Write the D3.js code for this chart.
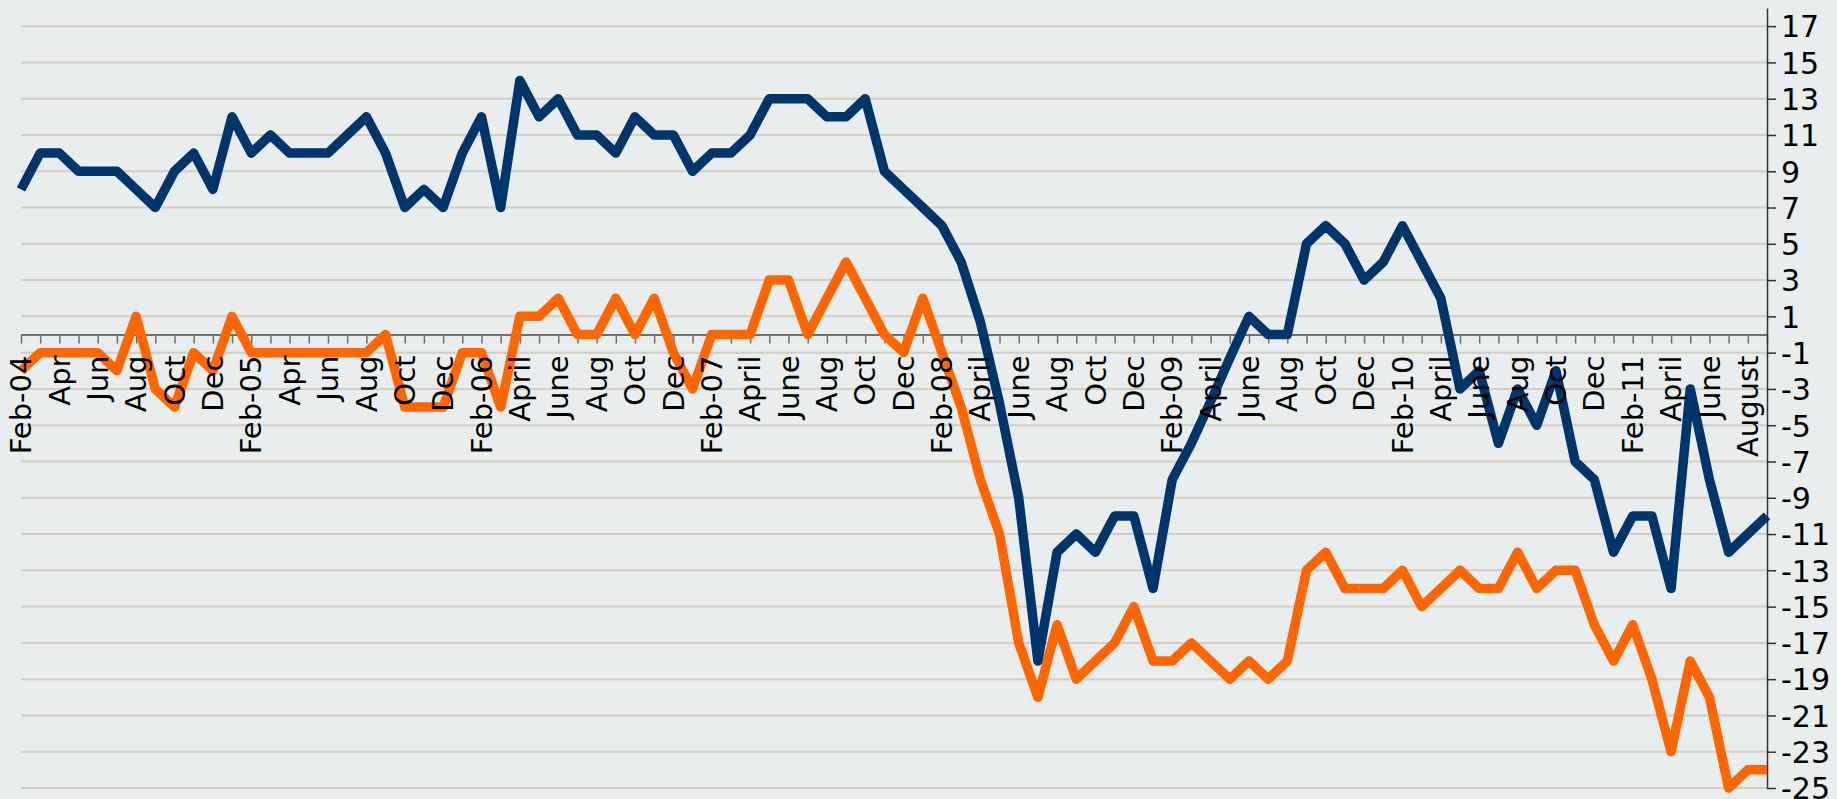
<!DOCTYPE html>
<html lang='en'>
  <head>
    <meta charset='utf-8'>
    <style type='text/css'>
      body {margin: 0; background-color: #e9eded;}
      #chart {width: 1837px; height: 799px; background-color: #e9eded;}
      .xlab text {font-family: "DejaVu Sans", Verdana, sans-serif; font-size: 29px; fill: #000;}
      .ylab text {font-family: "DejaVu Sans", Verdana, sans-serif; font-size: 30px; fill: #000;}
    </style>
  </head>
  <body>
    <div id='chart'>
      <svg width='1837' height='799'></svg>
    </div>
    <script src='https://d3js.org/d3.v7.min.js'></script>
    <script type='text/javascript'>
        // months, Feb 2004 to Sep 2011
        var months = [
          "2004-02","2004-03","2004-04","2004-05","2004-06","2004-07","2004-08","2004-09","2004-10","2004-11","2004-12",
          "2005-01","2005-02","2005-03","2005-04","2005-05","2005-06","2005-07","2005-08","2005-09","2005-10","2005-11","2005-12",
          "2006-01","2006-02","2006-03","2006-04","2006-05","2006-06","2006-07","2006-08","2006-09","2006-10","2006-11","2006-12",
          "2007-01","2007-02","2007-03","2007-04","2007-05","2007-06","2007-07","2007-08","2007-09","2007-10","2007-11","2007-12",
          "2008-01","2008-02","2008-03","2008-04","2008-05","2008-06","2008-07","2008-08","2008-09","2008-10","2008-11","2008-12",
          "2009-01","2009-02","2009-03","2009-04","2009-05","2009-06","2009-07","2009-08","2009-09","2009-10","2009-11","2009-12",
          "2010-01","2010-02","2010-03","2010-04","2010-05","2010-06","2010-07","2010-08","2010-09","2010-10","2010-11","2010-12",
          "2011-01","2011-02","2011-03","2011-04","2011-05","2011-06","2011-07","2011-08","2011-09"
        ];

        // label shown on every second month
        var tickLabels = [
          "Feb-04","Apr","Jun","Aug","Oct","Dec",
          "Feb-05","Apr","Jun","Aug","Oct","Dec",
          "Feb-06","April","June","Aug","Oct","Dec",
          "Feb-07","April","June","Aug","Oct","Dec",
          "Feb-08","April","June","Aug","Oct","Dec",
          "Feb-09","April","June","Aug","Oct","Dec",
          "Feb-10","April","June","Aug","Oct","Dec",
          "Feb-11","April","June","August"
        ];

        var blueSeries = [
          8,10,10,9,9,9,8,7,9,10,8,
          12,10,11,10,10,10,11,12,10,7,8,7,
          10,12,7,14,12,13,11,11,10,12,11,11,
          9,10,10,11,13,13,13,12,12,13,9,8,
          7,6,4,0.7,-3.8,-9,-18,-12,-11,-12,-10,-10,
          -14,-8,-6,-3.7,-1.3,1,0,0,5,6,5,3,
          4,6,4,2,-3,-2,-6,-3,-5,-2,-7,-8,
          -12,-10,-10,-14,-3,-8,-12,-11,-10
        ];

        var orangeSeries = [
          -2,-1,-1,-1,-1,-2,1,-3,-4,-1,-2,
          1,-1,-1,-1,-1,-1,-1,-1,0,-4,-4,-4,
          -1,-1,-4,1,1,2,0,0,2,0,2,-1,
          -3,0,0,0,3,3,0,2,4,2,0,-1,
          2,-1,-4,-8,-11,-17,-20,-16,-19,-18,-17,-15,
          -18,-18,-17,-18,-19,-18,-19,-18,-13,-12,-14,-14,
          -14,-13,-15,-14,-13,-14,-14,-12,-14,-13,-13,-16,
          -18,-16,-19,-23,-18,-20,-25,-24,-24
        ];

        var yTicks = [-25,-23,-21,-19,-17,-15,-13,-11,-9,-7,-5,-3,-1,1,3,5,7,9,11,13,15,17];

        var svg = d3.select("#chart svg");
        var plotLeft = 21, plotRight = 1767, plotTop = 8, plotBottom = 788;

        var x = d3.scalePoint().domain(months).range([plotLeft, plotRight]);
        var y = d3.scaleLinear().domain([-25, 18]).range([plotBottom, plotTop]);

        // gridlines
        svg.append("g").selectAll("line")
          .data(yTicks)
          .enter().append("line")
          .attr("x1", plotLeft).attr("x2", plotRight)
          .attr("y1", function(d){ return y(d); })
          .attr("y2", function(d){ return y(d); })
          .attr("stroke", "#d5cec3")
          .attr("stroke-width", 2);

        // x axis on zero line
        var xAxis = d3.axisBottom(x)
          .tickSize(9)
          .tickSizeOuter(0)
          .tickFormat("");
        var gx = svg.append("g")
          .attr("transform", "translate(0," + y(0) + ")")
          .call(xAxis);
        gx.select(".domain").attr("stroke", "#6f6f6f").attr("stroke-width", 2);
        gx.selectAll(".tick line").attr("stroke", "#6f6f6f").attr("stroke-width", 1.5);

        // y axis on the right, plain hyphen for minus
        var yAxis = d3.axisRight(y)
          .tickValues(yTicks)
          .tickSize(9)
          .tickSizeOuter(0)
          .tickPadding(5)
          .tickFormat(function(d){ return String(d); });
        var gy = svg.append("g")
          .attr("class", "ylab")
          .attr("transform", "translate(" + plotRight + ",0)")
          .call(yAxis);
        gy.attr("font-family", null).attr("font-size", null);
        gy.select(".domain").attr("stroke", "#333").attr("stroke-width", 1.5);
        gy.selectAll(".tick line").attr("stroke", "#333").attr("stroke-width", 1.5);
        gy.selectAll("text").attr("dy", "0.36em").attr("fill", "#000");

        // lines
        var line = d3.line()
          .x(function(d, i){ return x(months[i]); })
          .y(function(d){ return y(d); });

        svg.append("path")
          .datum(orangeSeries)
          .attr("d", line)
          .attr("fill", "none")
          .attr("stroke", "#ff6600")
          .attr("stroke-width", 9.5)
          .attr("stroke-linejoin", "round");

        svg.append("path")
          .datum(blueSeries)
          .attr("d", line)
          .attr("fill", "none")
          .attr("stroke", "#00356b")
          .attr("stroke-width", 9.5)
          .attr("stroke-linejoin", "round");

        // rotated month labels, every second month
        svg.append("g")
          .attr("class", "xlab")
          .selectAll("text")
          .data(tickLabels)
          .enter().append("text")
          .attr("transform", function(d, i){
            return "translate(" + x(months[i * 2]) + "," + (y(0) + 21) + ") rotate(-90)";
          })
          .attr("text-anchor", "end")
          .attr("dy", "0.35em")
          .text(function(d){ return d; });
    </script>
  </body>
</html>
